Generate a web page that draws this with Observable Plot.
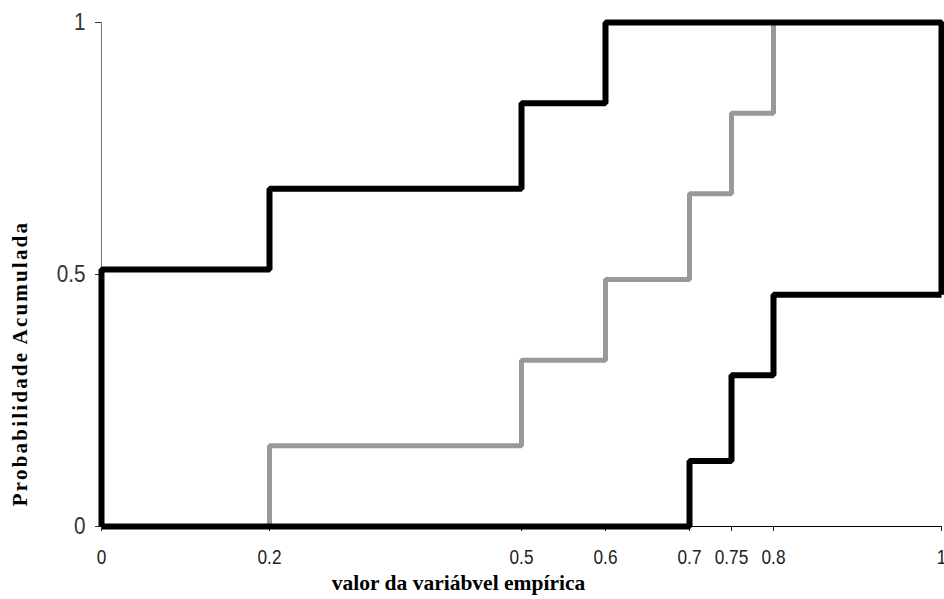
<!DOCTYPE html>
<html>
<head>
<meta charset="utf-8">
<script src="https://cdn.jsdelivr.net/npm/d3@7"></script>
<script src="https://cdn.jsdelivr.net/npm/@observablehq/plot@0.6"></script>
<style>
  html, body { margin: 0; padding: 0; background: #fff; }
  #chart svg { display: block; }
</style>
</head>
<body>
<div id="chart"></div>
<script>
// Upper bound (black)
const upperX = [0, 0, 0.2, 0.5, 0.6, 1, 1];
const upperY = [0, 0.51, 0.67, 0.84, 1, 1, 0.46];
// Empirical distribution (gray)
const midX = [0, 0.2, 0.5, 0.6, 0.7, 0.75, 0.8];
const midY = [0, 0.16, 0.33, 0.49, 0.66, 0.82, 1];
// Lower bound (black)
const lowerX = [0, 0.7, 0.75, 0.8, 1];
const lowerY = [0, 0.13, 0.30, 0.46, 0.46];

const xTicks = [0, 0.2, 0.5, 0.6, 0.7, 0.75, 0.8, 1];
const yTicks = [0, 0.5, 1];
const xTitle = "valor da variábvel empírica";
const yTitle = "Probabilidade Acumulada";

const toRows = (xs, ys) => xs.map((x, i) => ({x, y: ys[i]}));
const upper = toRows(upperX, upperY);
const mid = toRows(midX, midY);
const lower = toRows(lowerX, lowerY);

const tickFont = "'Liberation Sans', Arial, sans-serif";
const titleFont = "'Liberation Serif', 'Times New Roman', serif";

const chart = Plot.plot({
  width: 944,
  height: 599,
  marginLeft: 101,
  marginRight: 3,
  marginTop: 22,
  marginBottom: 73,
  x: {domain: [0, 1]},
  y: {domain: [0, 1]},
  style: {background: "#fff"},
  marks: [
    Plot.ruleX([0], {stroke: "#777", strokeWidth: 1}),
    Plot.ruleY([0], {stroke: "#000", strokeWidth: 1.2}),
    Plot.axisX({
      ticks: xTicks,
      tickFormat: d => String(d),
      tickSize: 5,
      tickPadding: 18,
      fontSize: 20.5,
      fontFamily: tickFont,
      color: "#222",
      label: null
    }),
    Plot.axisY({
      ticks: yTicks,
      tickFormat: d => String(d),
      tickSize: 6,
      tickPadding: 10,
      fontSize: 23,
      fontFamily: tickFont,
      color: "#333",
      label: null
    }),
    Plot.text([xTitle], {
      text: d => d,
      frameAnchor: "bottom",
      textAnchor: "middle",
      dx: -63,
      dy: 63,
      fontSize: 21.5,
      fontWeight: "bold",
      fontFamily: titleFont,
      fill: "#000",
      className: "xtitle"
    }),
    Plot.text([yTitle], {
      text: d => d,
      frameAnchor: "left",
      textAnchor: "middle",
      rotate: -90,
      dx: -81,
      dy: 89,
      fontSize: 21,
      fontWeight: "bold",
      fontFamily: titleFont,
      fill: "#000",
      className: "ytitle"
    }),
    Plot.line(mid, {x: "x", y: "y", curve: "step-after", stroke: "#999", strokeWidth: 5, strokeLinejoin: "miter", strokeLinecap: "butt"}),
    Plot.line(lower, {x: "x", y: "y", curve: "step-after", stroke: "#000", strokeWidth: 6, strokeLinejoin: "miter", strokeLinecap: "butt"}),
    Plot.line(upper, {x: "x", y: "y", curve: "step-after", stroke: "#000", strokeWidth: 6, strokeLinejoin: "miter", strokeLinecap: "butt"})
  ]
});
const yt = chart.querySelector(".ytitle");
if (yt) yt.style.letterSpacing = "2.2px";
document.getElementById("chart").appendChild(chart);
// condense tick labels to mimic a narrow face
chart.querySelectorAll('g[aria-label="x-axis tick label"] text').forEach(t => {
  const w = t.getComputedTextLength();
  if (w > 0) {
    t.setAttribute("textLength", (w * 0.84).toFixed(2));
    t.setAttribute("lengthAdjust", "spacingAndGlyphs");
  }
});
chart.querySelectorAll('g[aria-label="y-axis tick label"] text').forEach(t => {
  const w = t.getComputedTextLength();
  if (w > 0) {
    t.setAttribute("textLength", (w * 0.9).toFixed(2));
    t.setAttribute("lengthAdjust", "spacingAndGlyphs");
  }
});
</script>
</body>
</html>
